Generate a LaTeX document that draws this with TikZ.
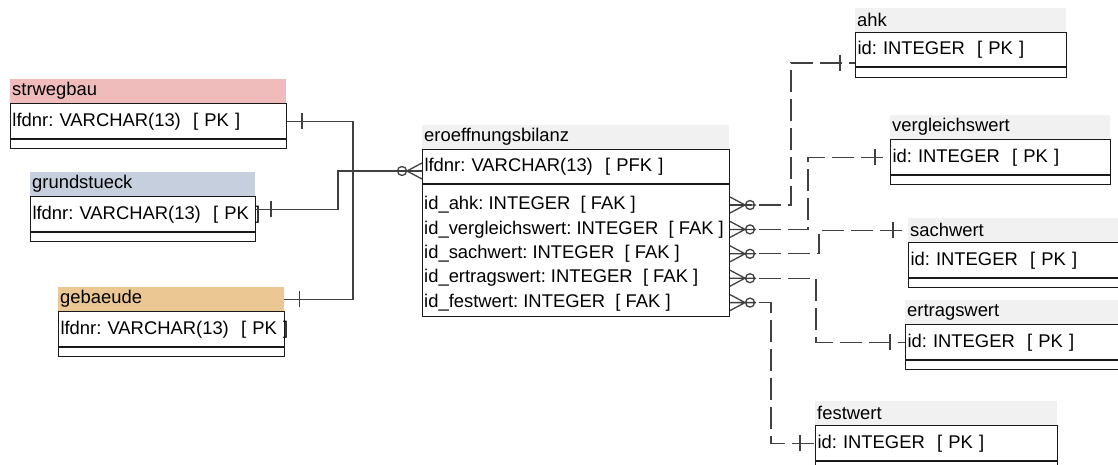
\documentclass[tikz,border=0pt]{standalone}
\usepackage{fontspec}
\setmainfont{Liberation Sans}
\usepackage{tikz}
\usepackage{xcolor}
\definecolor{headred}{HTML}{F0BBBB}
\definecolor{headblue}{HTML}{C6CFDD}
\definecolor{headorange}{HTML}{EBC794}
\definecolor{headgrey}{HTML}{F0F1F0}
\definecolor{linegrey}{HTML}{404040}
\definecolor{boxline}{HTML}{1A1A1A}
\frenchspacing
\tikzset{
    tbl-head/.style = {fill=#1, anchor=north west, inner xsep=2pt, inner ysep=0pt, minimum height=24pt, align=left},
    tbl-row/.style = {draw=boxline, anchor=north west, inner xsep=2pt, inner ysep=0pt, minimum height=35pt, align=left, line width=1pt},
    tbl-foot/.style = {draw=boxline, anchor=north west, inner sep=0pt, minimum height=9pt, line width=1pt},
    tbl-attr/.style = {anchor=west, inner sep=0pt},
    link/.style = {draw=linegrey, line width=1.3pt},
    link-dash/.style = {link, dash pattern=on 22pt off 7pt},
    one-end/.pic = {\draw[link] (15,-8) -- (15,8);},
    many-end/.pic = {\draw[link] (0,-8) -- (15,0) -- (0,8) (0,0) -- (26,0) (20,0) circle[radius=4.5pt];},
}

\begin{document}
\begin{tikzpicture}[x=1pt, y=-1pt, font=\fontsize{18.4}{21}\selectfont]
\useasboundingbox (0,0) rectangle (1118,465);

% tables on the left
\node[tbl-head=headred, text width=272pt] (sw-head) at (10,79) {strwegbau};
\node[tbl-row, text width=272pt] (sw-pk) at (sw-head.south west) {\mbox{lfdnr: VARCHAR(13)\ \ [ PK ]}};
\node[tbl-foot, minimum width=276pt] (sw-foot) at (sw-pk.south west) {};

\node[tbl-head=headblue, text width=221pt] (gr-head) at (30,172) {grundstueck};
\node[tbl-row, text width=221pt] (gr-pk) at (gr-head.south west) {\mbox{lfdnr: VARCHAR(13)\ \ [ PK ]}};
\node[tbl-foot, minimum width=225pt] (gr-foot) at (gr-pk.south west) {};

\node[tbl-head=headorange, text width=222pt] (ge-head) at (58,287) {gebaeude};
\node[tbl-row, text width=222pt] (ge-pk) at (ge-head.south west) {\mbox{lfdnr: VARCHAR(13)\ \ [ PK ]}};
\node[tbl-foot, minimum width=226pt] (ge-foot) at (ge-pk.south west) {};

% main table
\node[tbl-head=headgrey, text width=303pt] (eb-head) at (422,125) {eroeffnungsbilanz};
\node[tbl-row, text width=303pt, minimum height=34pt] (eb-pk) at (eb-head.south west) {\mbox{lfdnr: VARCHAR(13)\ \ [ PFK ]}};
\node[tbl-foot, minimum width=307pt, minimum height=132pt] (eb-attr) at (eb-pk.south west) {};
\node[tbl-attr] (eb-ahk) at (424,205) {id\_ahk: INTEGER\ \ [ FAK ]};
\node[tbl-attr] (eb-vw) at (424,229.4) {id\_vergleichswert: INTEGER\ \ [ FAK ]};
\node[tbl-attr] (eb-sa) at (424,253.8) {id\_sachwert: INTEGER\ \ [ FAK ]};
\node[tbl-attr] (eb-et) at (424,278.2) {id\_ertragswert: INTEGER\ \ [ FAK ]};
\node[tbl-attr] (eb-fw) at (424,302.6) {id\_festwert: INTEGER\ \ [ FAK ]};

% tables on the right
\node[tbl-head=headgrey, text width=207pt] (ahk-head) at (855,8) {ahk};
\node[tbl-row, text width=207pt, minimum height=34pt] (ahk-pk) at (ahk-head.south west) {\mbox{id: INTEGER\ \ [ PK ]}};
\node[tbl-foot, minimum width=211pt, minimum height=10pt] (ahk-foot) at (ahk-pk.south west) {};

\node[tbl-head=headgrey, text width=216pt] (vw-head) at (890,115) {vergleichswert};
\node[tbl-row, text width=216pt] (vw-pk) at (vw-head.south west) {\mbox{id: INTEGER\ \ [ PK ]}};
\node[tbl-foot, minimum width=220pt] (vw-foot) at (vw-pk.south west) {};

\node[tbl-head=headgrey, text width=208pt] (sa-head) at (908,218) {sachwert};
\node[tbl-row, text width=208pt] (sa-pk) at (sa-head.south west) {\mbox{id: INTEGER\ \ [ PK ]}};
\node[tbl-foot, minimum width=212pt] (sa-foot) at (sa-pk.south west) {};

\node[tbl-head=headgrey, text width=209pt] (et-head) at (905,300) {ertragswert};
\node[tbl-row, text width=209pt] (et-pk) at (et-head.south west) {\mbox{id: INTEGER\ \ [ PK ]}};
\node[tbl-foot, minimum width=213pt] (et-foot) at (et-pk.south west) {};

\node[tbl-head=headgrey, text width=238pt] (fw-head) at (815,401) {festwert};
\node[tbl-row, text width=238pt] (fw-pk) at (fw-head.south west) {\mbox{id: INTEGER\ \ [ PK ]}};
\node[tbl-foot, minimum width=242pt] (fw-foot) at (fw-pk.south west) {};

% links on the left
\coordinate (join) at (353,171);
\coordinate (gr-bend) at (338,171);
\draw[link] (sw-pk.east) -| (join);
\draw[link] (ge-head.east) -| (join);
\draw[link] ([yshift=5pt]gr-pk.east) -| (gr-bend) -- (join);
\draw[link, line width=2.4pt] (join) -- (eb-pk.west |- join);
\pic[xscale=-1] at (eb-pk.west |- join) {many-end};
\pic at (sw-pk.east) {one-end};
\pic at (ge-head.east) {one-end};
\pic at ([yshift=5pt]gr-pk.east) {one-end};

% links on the right
\coordinate (ahk-bend) at (791,63);
\coordinate (vw-bend) at (808,0);
\coordinate (sa-bend) at (819,0);
\coordinate (et-bend) at (816,0);
\coordinate (fw-bend) at (771,0);
\draw[link-dash] (eb-attr.east |- eb-ahk) -| (ahk-bend) -- (ahk-pk.west |- ahk-bend);
\draw[link-dash] (eb-attr.east |- eb-vw) -| (vw-bend |- vw-pk.west) -- (vw-pk.west);
\draw[link-dash] (eb-attr.east |- eb-sa) -| (sa-bend |- sa-head.west) -- (sa-head.west);
\draw[link-dash] (eb-attr.east |- eb-et) -| (et-bend |- et-pk.west) -- (et-pk.west);
\draw[link-dash] (eb-attr.east |- eb-fw) -| (fw-bend |- fw-pk.west) -- (fw-pk.west);
\foreach \r in {ahk,vw,sa,et,fw}
    \pic at (eb-attr.east |- eb-\r) {many-end};
\pic[xscale=-1] at (ahk-pk.west |- ahk-bend) {one-end};
\pic[xscale=-1] at (vw-pk.west) {one-end};
\pic[xscale=-1] at (sa-head.west) {one-end};
\pic[xscale=-1] at (et-pk.west) {one-end};
\pic[xscale=-1] at (fw-pk.west) {one-end};
\end{tikzpicture}
\end{document}
